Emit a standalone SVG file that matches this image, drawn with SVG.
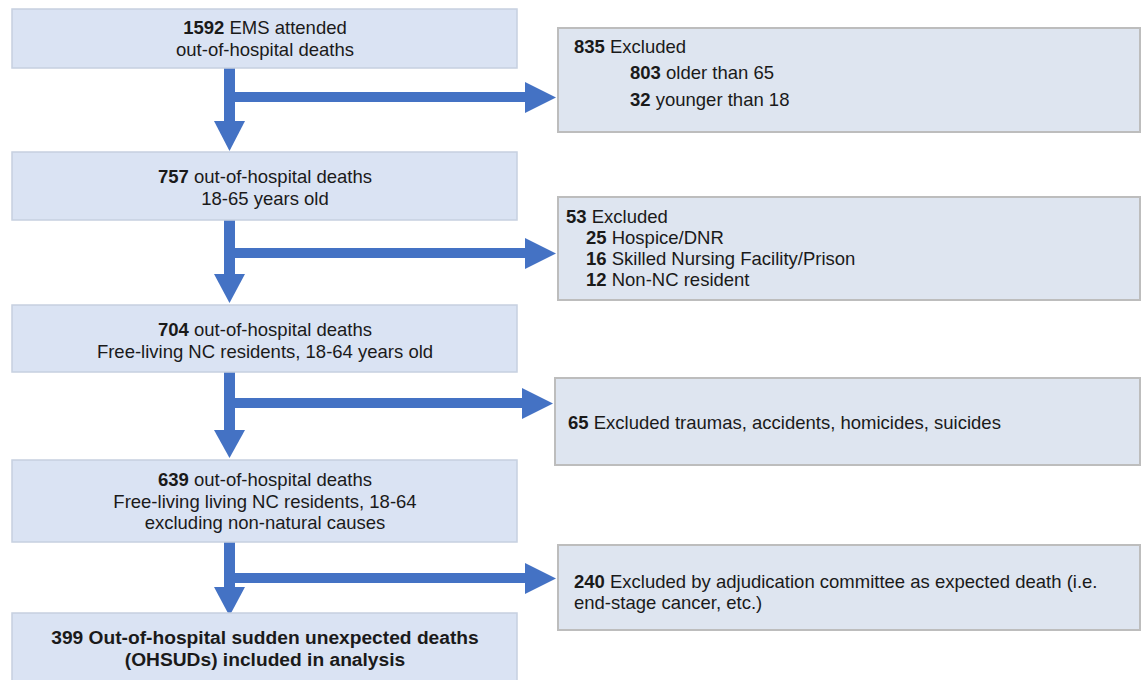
<svg xmlns="http://www.w3.org/2000/svg" width="1142" height="680" viewBox="0 0 1142 680">
<style>
.main{fill:#dae3f3;stroke:#c6d0e0;stroke-width:1.5}
.side{fill:#dee5f0;stroke:#bdbdbd;stroke-width:2}
text{font-family:"Liberation Sans",Arial,sans-serif;font-size:18.5px;fill:#1a1a1a}
.c{text-anchor:middle}
.b{font-weight:bold}
.big{font-size:19.2px}
.shaft{stroke:#4472c4;fill:none}
.head{fill:#4472c4}
</style>
<rect width="1142" height="680" fill="#ffffff"/>
<g id="connectors">
<line class="shaft" x1="229.5" y1="68" x2="229.5" y2="122" stroke-width="11"/>
<line class="shaft" x1="229.5" y1="97" x2="526" y2="97" stroke-width="10"/>
<polygon class="head" points="214,121 245,121 229.5,151"/>
<polygon class="head" points="525,82 556,97.5 525,113"/>

<line class="shaft" x1="229.5" y1="220" x2="229.5" y2="275" stroke-width="11"/>
<line class="shaft" x1="229.5" y1="253" x2="526" y2="253" stroke-width="10"/>
<polygon class="head" points="214,274 245,274 229.5,303"/>
<polygon class="head" points="525,238 556,253.5 525,269"/>

<line class="shaft" x1="229.5" y1="372" x2="229.5" y2="431" stroke-width="11"/>
<line class="shaft" x1="229.5" y1="403" x2="523" y2="403" stroke-width="10"/>
<polygon class="head" points="214,430 245,430 229.5,458"/>
<polygon class="head" points="522,388 553,403.5 522,419"/>

<line class="shaft" x1="229.5" y1="542" x2="229.5" y2="588" stroke-width="11"/>
<line class="shaft" x1="229.5" y1="578" x2="526" y2="578" stroke-width="10"/>
<polygon class="head" points="214,587 245,587 229.5,616"/>
<polygon class="head" points="525,563 556,578.5 525,594"/>
</g>
<g id="n1">
<rect class="main" x="12" y="9" width="505" height="59"/>
<text class="c" x="265" y="34"><tspan class="b">1592</tspan> EMS attended</text>
<text class="c" x="265" y="56">out-of-hospital deaths</text>
</g>
<g id="e1">
<rect class="side" x="558" y="28" width="582" height="104"/>
<text x="574" y="53"><tspan class="b">835</tspan> Excluded</text>
<text x="630" y="79"><tspan class="b">803</tspan> older than 65</text>
<text x="630" y="106"><tspan class="b">32</tspan> younger than 18</text>
</g>
<g id="n2">
<rect class="main" x="12" y="152" width="505" height="68"/>
<text class="c" x="265" y="183"><tspan class="b">757</tspan> out-of-hospital deaths</text>
<text class="c" x="265" y="205">18-65 years old</text>
</g>
<g id="e2">
<rect class="side" x="558" y="197" width="582" height="103"/>
<text x="566" y="223"><tspan class="b">53</tspan> Excluded</text>
<text x="586" y="244"><tspan class="b">25</tspan> Hospice/DNR</text>
<text x="586" y="265"><tspan class="b">16</tspan> Skilled Nursing Facility/Prison</text>
<text x="586" y="286"><tspan class="b">12</tspan> Non-NC resident</text>
</g>
<g id="n3">
<rect class="main" x="12" y="305" width="505" height="67"/>
<text class="c" x="265" y="336"><tspan class="b">704</tspan> out-of-hospital deaths</text>
<text class="c" x="265" y="358">Free-living NC residents, 18-64 years old</text>
</g>
<g id="e3">
<rect class="side" x="555" y="378" width="585" height="87"/>
<text x="568" y="429"><tspan class="b">65</tspan> Excluded traumas, accidents, homicides, suicides</text>
</g>
<g id="n4">
<rect class="main" x="12" y="460" width="505" height="82"/>
<text class="c" x="265" y="486"><tspan class="b">639</tspan> out-of-hospital deaths</text>
<text class="c" x="265" y="508">Free-living living NC residents, 18-64</text>
<text class="c" x="265" y="529">excluding non-natural causes</text>
</g>
<g id="e4">
<rect class="side" x="558" y="545" width="582" height="85"/>
<text x="574" y="588"><tspan class="b">240</tspan> Excluded by adjudication committee as expected death (i.e.</text>
<text x="574" y="609">end-stage cancer, etc.)</text>
</g>
<g id="n5">
<rect class="main" x="12" y="613" width="505" height="72"/>
<text class="c b big" x="265" y="644">399 Out-of-hospital sudden unexpected deaths</text>
<text class="c b big" x="265" y="666">(OHSUDs) included in analysis</text>
</g>
</svg>
